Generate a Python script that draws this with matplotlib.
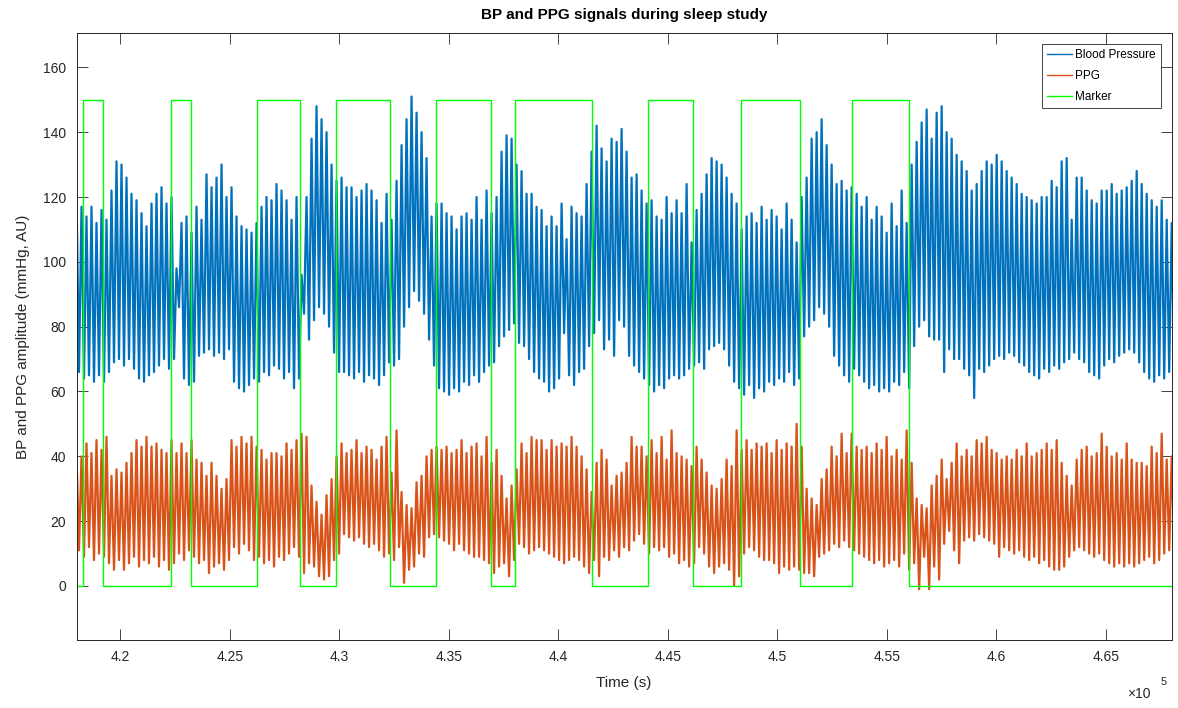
import numpy as np
import matplotlib
matplotlib.use("Agg")
import matplotlib.pyplot as plt
from matplotlib.ticker import FuncFormatter, FixedLocator

plt.rcParams['font.family'] = ['Liberation Sans', 'DejaVu Sans']

# ---------------- data ----------------
t_start, t_end = 418000, 468000

bp_peaks = [
    121, 117, 114, 117, 112, 116, 113, 122, 131, 130,
    126, 121, 119, 115, 111, 118, 121, 123, 118, 120,
    98, 112, 114, 109, 117, 113, 127, 123, 126, 130,
    120, 123, 114, 111, 110, 109, 112, 117, 120, 119,
    124, 122, 119, 113, 120, 96, 120, 138, 148, 144,
    140, 130, 125, 126, 123, 123, 120, 122, 124, 122,
    119, 112, 121, 113, 125, 136, 144, 151, 146, 140,
    132, 114, 118, 118, 115, 114, 110, 114, 115, 113,
    120, 113, 122, 115, 120, 134, 139, 138, 130, 128,
    121, 121, 117, 116, 111, 114, 111, 118, 107, 117,
    115, 114, 124, 134, 142, 135, 131, 138, 137, 141,
    134, 126, 127, 122, 118, 119, 114, 113, 120, 115,
    119, 115, 124, 106, 116, 121, 127, 132, 131, 130,
    126, 121, 118, 110, 114, 115, 112, 117, 113, 116,
    114, 110, 118, 113, 106, 120, 126, 138, 140, 144,
    136, 130, 124, 125, 122, 123, 121, 117, 120, 113,
    117, 114, 109, 118, 111, 122, 112, 130, 137, 143,
    147, 138, 146, 148, 140, 138, 133, 131, 128, 122,
    124, 128, 131, 130, 133, 131, 128, 126, 124, 121,
    120, 119, 118, 120, 120, 125, 123, 131, 132, 113,
    126, 126, 122, 119, 118, 122, 122, 124, 121, 122,
    123, 125, 128, 124, 121, 119, 117, 119, 113, 112,
]
bp_troughs = [
    66, 64, 65, 63, 65, 63, 66, 69, 70, 68,
    70, 67, 64, 63, 65, 66, 68, 70, 67, 70,
    86, 64, 62, 63, 71, 72, 73, 71, 72, 70,
    73, 63, 61, 60, 62, 64, 63, 66, 65, 68,
    67, 64, 66, 61, 64, 84, 76, 82, 86, 84,
    80, 72, 66, 66, 65, 64, 66, 63, 65, 64,
    62, 65, 69, 68, 70, 80, 86, 91, 88, 84,
    76, 68, 61, 60, 59, 61, 60, 63, 62, 65,
    63, 66, 68, 69, 74, 77, 79, 81, 75, 74,
    70, 66, 64, 63, 60, 61, 64, 78, 65, 62,
    66, 67, 74, 78, 82, 73, 76, 71, 82, 80,
    71, 68, 66, 64, 62, 60, 62, 61, 64, 65,
    64, 65, 67, 68, 69, 67, 73, 74, 75, 73,
    68, 63, 61, 59, 62, 58, 61, 60, 63, 62,
    64, 63, 66, 62, 64, 77, 80, 82, 86, 84,
    80, 71, 68, 65, 63, 67, 65, 63, 61, 62,
    60, 61, 60, 63, 62, 66, 61, 74, 80, 82,
    77, 76, 76, 66, 73, 70, 70, 67, 65, 58,
    67, 66, 68, 70, 71, 70, 72, 71, 69, 68,
    66, 65, 64, 67, 66, 68, 67, 69, 70, 72,
    70, 69, 66, 65, 64, 68, 70, 69, 71, 72,
    73, 72, 69, 66, 64, 63, 65, 64, 66, 65,
]
ppg_peaks = [
    41, 40, 44, 41, 45, 42, 46, 34, 36, 35,
    38, 41, 45, 43, 46, 43, 44, 42, 41, 45,
    41, 44, 41, 45, 39, 38, 34, 38, 34, 30,
    33, 45, 43, 46, 44, 46, 43, 42, 39, 41,
    41, 40, 44, 42, 45, 47, 46, 31, 26, 22,
    28, 33, 40, 44, 41, 42, 45, 41, 43, 42,
    39, 43, 46, 35, 48, 29, 25, 24, 32, 34,
    40, 42, 43, 42, 43, 41, 42, 45, 41, 43,
    44, 40, 46, 38, 42, 34, 27, 31, 36, 44,
    41, 46, 45, 45, 42, 45, 43, 44, 43, 46,
    43, 40, 36, 29, 38, 42, 39, 31, 34, 35,
    38, 46, 43, 43, 40, 45, 41, 46, 39, 48,
    41, 40, 39, 37, 43, 39, 35, 31, 30, 33,
    39, 37, 48, 42, 45, 42, 44, 43, 44, 41,
    45, 42, 44, 43, 50, 43, 30, 27, 25, 33,
    36, 43, 40, 47, 41, 47, 43, 42, 43, 41,
    44, 42, 46, 40, 42, 39, 48, 38, 27, 25,
    24, 31, 34, 39, 33, 38, 44, 40, 42, 40,
    45, 44, 46, 42, 41, 39, 40, 39, 42, 40,
    44, 40, 41, 42, 44, 42, 45, 38, 34, 31,
    39, 42, 43, 40, 41, 47, 43, 40, 41, 39,
    44, 39, 38, 38, 37, 43, 41, 47, 39, 40,
]
ppg_troughs = [
    11, 9, 12, 8, 10, 9, 7, 5, 8, 5,
    7, 9, 6, 8, 7, 9, 6, 8, 5, 7,
    10, 8, 11, 9, 7, 8, 4, 6, 7, 5,
    8, 12, 10, 13, 11, 8, 9, 7, 8, 6,
    9, 8, 10, 12, 9, 4, 7, 6, 3, 2,
    3, 8, 10, 16, 15, 14, 15, 13, 12, 13,
    11, 9, 10, 8, 12, 1, 5, 6, 10, 9,
    15, 16, 15, 14, 13, 11, 13, 11, 10, 9,
    9, 8, 7, 4, 6, 7, 3, 8, 13, 12,
    10, 11, 12, 11, 10, 9, 8, 7, 8, 9,
    8, 6, 4, 8, 3, 9, 8, 11, 9, 12,
    11, 14, 16, 13, 10, 12, 11, 12, 9, 10,
    7, 8, 6, 7, 12, 10, 6, 4, 6, 7,
    5, 0, 3, 10, 12, 11, 9, 8, 8, 7,
    4, 6, 5, 6, 5, 4, 4, 3, 9, 10,
    11, 13, 12, 14, 12, 11, 10, 9, 8, 7,
    8, 6, 7, 8, 6, 10, 5, 7, -1, 9,
    -1, 6, 2, 13, 17, 11, 7, 14, 15, 14,
    16, 15, 14, 13, 9, 12, 11, 10, 11, 9,
    8, 9, 7, 8, 6, 5, 5, 6, 9, 11,
    12, 11, 10, 9, 10, 8, 7, 6, 7, 6,
    7, 6, 7, 8, 9, 7, 8, 10, 11, 12,
]
# marker switching times (s) and levels
marker_times = [418310, 419220, 422310, 423210, 426220, 428220, 429830, 432330,
                434430, 436920, 438020, 441520, 444110, 446130, 448320, 451030,
                453420, 456020]
marker_low, marker_high = 0, 150

xtick_values = [420000, 425000, 430000, 435000, 440000, 445000, 450000, 455000,
                460000, 465000]
ytick_values = [0, 20, 40, 60, 80, 100, 120, 140, 160]
labels = ['Blood Pressure', 'PPG', 'Marker']

# ---------------- helpers ----------------
def beat_trace(peaks, troughs):
    n = min(len(peaks), len(troughs))
    t = np.linspace(t_start, t_end, n)
    dt = t[1] - t[0]
    x = np.empty(2 * n)
    y = np.empty(2 * n)
    x[0::2] = t
    x[1::2] = t + dt / 2
    y[0::2] = peaks[:n]
    y[1::2] = troughs[:n]
    return x, y

# marker step arrays
m_edges = [t_start] + marker_times + [t_end]
m_vals = []
lvl = marker_low
for i in range(len(m_edges)):
    m_vals.append(lvl)
    if 0 < i + 1 < len(m_edges):
        lvl = marker_high if lvl == marker_low else marker_low
m_vals[-1] = m_vals[-2]

# ---------------- figure ----------------
W, H = 1178, 708
fig = plt.figure(figsize=(W / 100, H / 100), dpi=100)
ax_l, ax_r, ax_t, ax_b = 76.5, 1171.7, 33.3, 640
ax = fig.add_axes([ax_l / W, 1 - ax_b / H, (ax_r - ax_l) / W, (ax_b - ax_t) / H])

bx, by = beat_trace(bp_peaks, bp_troughs)
px_, py_ = beat_trace(ppg_peaks, ppg_troughs)
ax.plot(bx, by, color='#0072BD', lw=1.6, label=labels[0])
ax.plot(px_, py_, color='#D95319', lw=1.6, label=labels[1])
ax.plot(m_edges, m_vals, color='#00FF00', lw=1.0, drawstyle='steps-post',
        label=labels[2])

ax.set_xlim(t_start, t_end)
ax.set_ylim(-16.66, 170.5)
ax.xaxis.set_major_locator(FixedLocator(xtick_values))
ax.yaxis.set_major_locator(FixedLocator(ytick_values))
ax.xaxis.set_major_formatter(FuncFormatter(lambda v, p: f"{v / 1e5:g}"))

dark = '#262626'
ax.tick_params(direction='in', length=7.7, width=0.6, top=True, right=True,
               colors=dark, labelsize=10, pad=7.5)
for s in ax.spines.values():
    s.set_color(dark)
    s.set_linewidth(0.7)

ax.set_title('BP and PPG signals during sleep study', fontsize=11,
             fontweight='bold', color='black', pad=10)
ax.set_xlabel('Time (s)', fontsize=11, color=dark, labelpad=8)
ax.set_ylabel('BP and PPG amplitude (mmHg, AU)', fontsize=11, color=dark,
              labelpad=9)

fig.text(1127 / W, 1 - 694 / H, '×10', fontsize=10, color=dark,
         ha='left', va='center')
fig.text(1161 / W, 1 - 682 / H, '5', fontsize=8, color=dark,
         ha='left', va='center')

leg = ax.legend(loc='upper right', bbox_to_anchor=(0.9903, 0.9824),
                borderaxespad=0, fancybox=False, edgecolor=dark, framealpha=1,
                fontsize=8.5, handlelength=2.1, handletextpad=0.3,
                labelspacing=0.75, borderpad=0.45)
leg.get_frame().set_linewidth(0.6)
for h in leg.get_lines():
    h.set_linewidth(1.0)

fig.savefig('out.png', dpi=100)
